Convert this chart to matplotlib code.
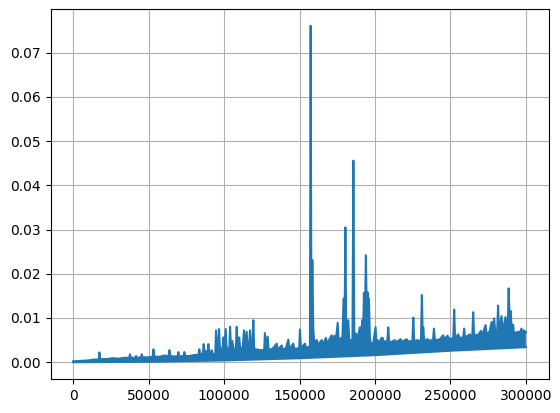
import matplotlib
matplotlib.use("Agg")
import matplotlib.pyplot as plt

# upper edge of the dense series (index, value)
top_x = [
    0, 5000, 10000, 14000, 16900, 17400, 17900, 22000, 26000, 30000, 34000,
    37200, 37700, 38200, 41200, 41700, 42200, 45000, 45500, 46000, 49000,
    52700, 53200, 53800, 57000, 60000, 63300, 63800, 64400, 67000, 69200,
    69700, 70300, 73200, 73700, 74300, 77000, 80000, 83100, 83600, 84200,
    86000, 86500, 87100, 88000, 89100, 89600, 90200, 91300, 91800, 92400,
    94200, 94700, 95400, 96200, 96700, 97300, 99000, 99600, 100200, 101100,
    101700, 103500, 104000, 104600, 105500, 106200, 107800, 108400, 109000,
    110100, 110700, 112400, 113200, 113800, 115000, 115600, 116600, 117200,
    117900, 118800, 119400, 120000, 122700, 124500, 126600, 127100, 127700,
    128900, 129500, 132000, 134900, 135600, 138200, 139000, 141000, 142600,
    143300, 145900, 146600, 149800, 150300, 150900, 153600, 154300, 156900,
    157400, 157900, 158500, 159100, 159700, 161400, 162500, 164700, 165500,
    167500, 168300, 171300, 172000, 173100, 174000, 175300, 176000, 177500,
    178400, 179200, 179800, 180400, 181000, 182300, 183000, 185100, 185700,
    186300, 187400, 188200, 190000, 190700, 191600, 192100, 192700, 193300,
    194000, 194600, 195100, 195500, 196000, 196600, 197100, 198900, 200400,
    200900, 201500, 202500, 204400, 205100, 205800, 208200, 208800, 209400,
    211000, 213200, 214000, 217000, 218000, 221000, 222000, 224800, 225400,
    226000, 228300, 229000, 230500, 231100, 231600, 232000, 232600, 234900,
    235800, 238500, 239100, 239700, 241900, 242800, 245200, 246000, 248100,
    249000, 251900, 252500, 253100, 255200, 256000, 258500, 259100, 259700,
    262900, 263600, 264500, 265100, 265700, 267300, 268000, 270200, 271000,
    273300, 274000, 276000, 277300, 278000, 279000, 279800, 281000, 281600,
    282200, 283900, 284600, 286500, 287200, 288000, 288600, 289100, 290000,
    290600, 291500, 292200, 294800, 295600, 297100, 297800, 298600, 300000,
]
top_y = [
    .0002, .0003, .0004, .0006, .0006, .0022, .0007, .0007, .0009, .0008, .0010,
    .0010, .0018, .0010, .0010, .0014, .0010, .0011, .0018, .0011, .0011,
    .0012, .0029, .0013, .0012, .0015, .0014, .0027, .0014, .0013, .0013,
    .0023, .0013, .0014, .0023, .0014, .0014, .0016, .0017, .0029, .0018,
    .0020, .0041, .0022, .0025, .0021, .0041, .0021, .0019, .0027, .0018,
    .0020, .0072, .0030, .0035, .0075, .0030, .0032, .0056, .0028, .0075,
    .0030, .0032, .0080, .0030, .0048, .0030, .0030, .0080, .0032,
    .0056, .0030, .0034, .0072, .0033, .0069, .0032, .0033, .0072,
    .0032, .0034, .0095, .0030, .0028, .0027, .0028, .0066, .0030,
    .0058, .0028, .0030, .0042, .0028, .0038, .0028, .0032, .0051,
    .0030, .0042, .0030, .0032, .0074, .0032, .0042, .0033, .0035,
    .0761, .0045, .0231, .0080, .0045, .0050, .0040, .0050, .0040,
    .0055, .0042, .0061, .0044, .0060, .0045, .0089, .0046, .0055,
    .0048, .0144, .0050, .0305, .0050, .0095, .0050, .0050, .0456,
    .0050, .0065, .0050, .0079, .0055, .0095, .0060, .0157, .0090,
    .0242, .0100, .0158, .0110, .0144, .0060, .0042, .0044, .0079,
    .0045, .0050, .0044, .0055, .0055, .0046, .0048, .0079, .0046,
    .0046, .0050, .0045, .0052, .0046, .0052, .0047, .0048, .0101,
    .0048, .0050, .0048, .0050, .0152, .0060, .0079, .0049, .0052,
    .0049, .0050, .0076, .0050, .0051, .0051, .0061, .0052, .0060,
    .0053, .0054, .0119, .0054, .0063, .0055, .0056, .0076, .0056,
    .0063, .0057, .0058, .0113, .0058, .0062, .0059, .0071, .0060,
    .0084, .0062, .0070, .0091, .0075, .0099, .0065, .0070, .0128,
    .0070, .0104, .0068, .0102, .0070, .0080, .0167, .0110, .0116,
    .0070, .0085, .0065, .0069, .0064, .0076, .0064, .0072, .0068,
]

# lower edge of the band
bottom_x = [0, 50000, 100000, 150000, 200000, 250000, 300000]
bottom_y = [0.0, .0001, .0004, .0009, .0016, .0026, .0034]

color = "#1f77b4"

fig = plt.figure(figsize=(5.6, 4.13), dpi=100)
ax = fig.add_axes([50.5 / 560, 34 / 413, 498 / 560, 370 / 413])

ax.fill(top_x + bottom_x[::-1], top_y + bottom_y[::-1], color=color, lw=0, zorder=2)
ax.plot(top_x, top_y, color=color, lw=1.5)
ax.plot(bottom_x, bottom_y, color=color, lw=1.5)

ax.set_ylim(-0.0038, 0.0799)
ax.grid(True)

fig.savefig("out.png", dpi=100)
